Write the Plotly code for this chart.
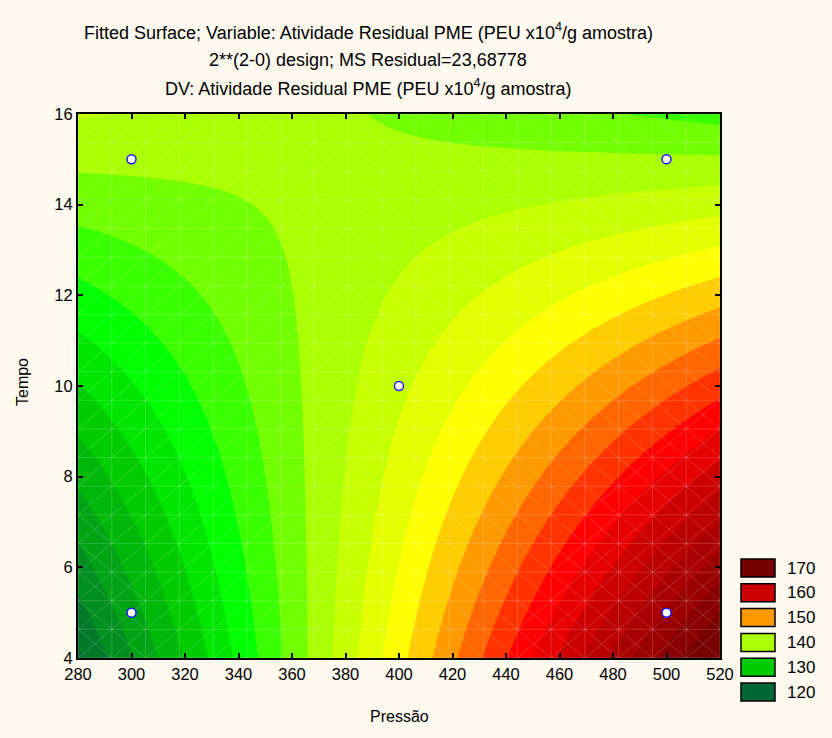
import numpy as np
import plotly.graph_objects as go

# ---- experimental design (2^2 factorial + centre point) ----
pressao_pts = [300, 500, 300, 500, 400]
tempo_pts = [5, 5, 15, 15, 10]
atividade = [126.1, 165.1, 139.4, 139.2, 147.9]

# legend levels shown beside the map
legend_levels = [170, 160, 150, 140, 130, 120]

# axis ticks
x_ticks = [280, 300, 320, 340, 360, 380, 400, 420, 440, 460, 480, 500, 520]
y_ticks = [4, 6, 8, 10, 12, 14, 16]

# colour palette (value -> colour) used for the contour bands
pal_vals = [120, 130, 134, 140, 146, 150, 156, 160, 170]
pal_cols = ["#006633", "#00cc00", "#00ff00", "#aaff00", "#ffff00",
            "#ff9900", "#ff0000", "#cc0000", "#770000"]

FONT = "Liberation Sans, Arial, sans-serif"
W, H = 832, 738
L_PX, R_PX, T_PX, B_PX = 78, 720, 114, 658
BG = "#fdf9ef"


def hex_rgb(h):
    h = h.lstrip("#")
    return np.array([int(h[i:i + 2], 16) for i in (0, 2, 4)], float)


def palette(v):
    v = min(max(v, pal_vals[0]), pal_vals[-1])
    rgbs = np.array([hex_rgb(c) for c in pal_cols])
    rgb = [np.interp(v, pal_vals, rgbs[:, k]) for k in range(3)]
    return "rgb(%d,%d,%d)" % tuple(int(round(c)) for c in rgb)


# ---- fit the bilinear model in coded units ----
P = np.array(pressao_pts, float)
T = np.array(tempo_pts, float)
Y = np.array(atividade, float)
x1 = (P - 400.0) / 100.0
x2 = (T - 10.0) / 5.0
A = np.column_stack([np.ones_like(x1), x1, x2, x1 * x2])
coef, *_ = np.linalg.lstsq(A, Y, rcond=None)


def surface(p, t):
    c1 = (p - 400.0) / 100.0
    c2 = (t - 10.0) / 5.0
    return coef[0] + coef[1] * c1 + coef[2] * c2 + coef[3] * c1 * c2


gx = np.linspace(280, 520, 241)
gy = np.linspace(4, 16, 241)
GX, GY = np.meshgrid(gx, gy)
Z = surface(GX, GY)

# ---- stepped colour scale: band [L, L+step) takes palette(L) ----
c_start, c_end, c_step = 110, 180, 2
nc = int(round((c_end - c_start) / c_step)) + 1
colorscale = []
for j in range(nc + 1):
    lower = c_start + (j - 1) * c_step
    colorscale.append([j / nc, palette(lower)])

fig = go.Figure()
fig.add_trace(go.Contour(
    x=gx, y=gy, z=Z,
    autocontour=False,
    contours=dict(start=c_start, end=c_end, size=c_step,
                  coloring="fill", showlines=False),
    line=dict(width=0),
    colorscale=colorscale,
    showscale=False,
    hoverinfo="skip",
))

# ---- faint mesh of the evaluation grid (19 x 19 cells) ----
ncell = 19
mx = np.linspace(280, 520, ncell + 1)
my = np.linspace(4, 16, ncell + 1)
lx, ly = [], []
for v in mx:
    lx += [v, v, None]
    ly += [4, 16, None]
for v in my:
    lx += [280, 520, None]
    ly += [v, v, None]
for i in range(ncell):
    for j in range(ncell):
        xa, xb = mx[i], mx[i + 1]
        ya, yb = my[j], my[j + 1]
        zc = surface((xa + xb) / 2, (ya + yb) / 2)
        fwd = (xa + xb) / 2 < 385
        both = zc < 128 or zc > 156
        if fwd or both:
            lx += [xa, xb, None]
            ly += [ya, yb, None]
        if (not fwd) or both:
            lx += [xa, xb, None]
            ly += [yb, ya, None]
fig.add_trace(go.Scatter(
    x=lx, y=ly, mode="lines",
    line=dict(color="rgba(255,255,255,0.18)", width=1),
    hoverinfo="skip", showlegend=False,
))

# ---- design points ----
fig.add_trace(go.Scatter(
    x=pressao_pts, y=tempo_pts, mode="markers",
    marker=dict(symbol="circle", size=9, color="white",
                line=dict(color="#1a1aff", width=1.5)),
    hoverinfo="skip", showlegend=False,
))


def px_x(px):
    return (px - L_PX) / (R_PX - L_PX)


def px_y(py):
    return (B_PX - py) / (B_PX - T_PX)


annotations = []
title_lines = [
    "Fitted Surface; Variable: Atividade Residual PME (PEU x10<sup>4</sup>/g amostra)",
    "2**(2-0) design; MS Residual=23,68778",
    "DV: Atividade Residual PME (PEU x10<sup>4</sup>/g amostra)",
]
for txt, py in zip(title_lines, [31, 60, 88]):
    annotations.append(dict(
        text=txt, xref="paper", yref="paper", x=px_x(368), y=px_y(py),
        xanchor="center", yanchor="middle", showarrow=False,
        font=dict(family=FONT, size=18, color="black"),
    ))
annotations.append(dict(
    text="Pressão", xref="paper", yref="paper", x=px_x(400), y=px_y(716),
    xanchor="center", yanchor="middle", showarrow=False,
    font=dict(family=FONT, size=16, color="black"),
))
annotations.append(dict(
    text="Tempo", xref="paper", yref="paper", x=px_x(22), y=px_y(382),
    xanchor="center", yanchor="middle", showarrow=False, textangle=-90,
    font=dict(family=FONT, size=16, color="black"),
))

shapes = []
for k, lev in enumerate(legend_levels):
    cy = 568 + k * 24.8
    shapes.append(dict(
        type="rect", xref="paper", yref="paper",
        x0=px_x(741), x1=px_x(775), y0=px_y(cy + 9), y1=px_y(cy - 9),
        fillcolor=palette(lev), line=dict(color="black", width=1.5),
    ))
    annotations.append(dict(
        text=str(lev), xref="paper", yref="paper", x=px_x(785), y=px_y(cy),
        xanchor="left", yanchor="middle", showarrow=False,
        font=dict(family=FONT, size=17, color="black"),
    ))

axis_common = dict(
    showline=True, linecolor="black", linewidth=2, mirror="ticks",
    ticks="inside", ticklen=5, tickwidth=1.5, tickcolor="black",
    showgrid=False, zeroline=False,
    tickfont=dict(family=FONT, size=16.5, color="black"),
)
fig.update_layout(
    width=W, height=H,
    margin=dict(l=L_PX, r=W - R_PX, t=T_PX, b=H - B_PX),
    paper_bgcolor=BG, plot_bgcolor=BG,
    xaxis=dict(range=[280, 520], tickvals=x_ticks, **axis_common),
    yaxis=dict(range=[4, 16], tickvals=y_ticks, **axis_common),
    annotations=annotations, shapes=shapes,
    showlegend=False,
)

fig.write_html("out.html")
